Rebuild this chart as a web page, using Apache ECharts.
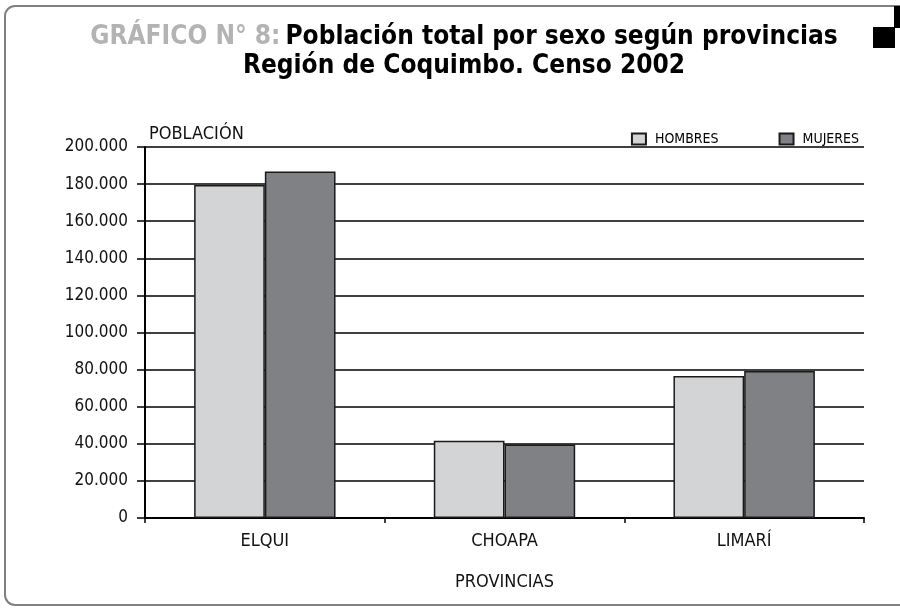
<!DOCTYPE html>
<html>
<head>
<meta charset="utf-8">
<script src="https://cdn.jsdelivr.net/npm/echarts@6/dist/echarts.min.js"></script>
<style>
  html, body { margin: 0; padding: 0; background: #fff; }
  #chart { width: 900px; height: 608px; }
</style>
</head>
<body>
<div id="chart"></div>
<script>
  // datos
  var provincias = ['ELQUI', 'CHOAPA', 'LIMARÍ']
  var hombres = [179500, 41600, 76500]
  var mujeres = [186800, 39600, 79300]
  var yTicks = [0, 20000, 40000, 60000, 80000, 100000, 120000, 140000, 160000, 180000, 200000]

  var FONT = "'Liberation Sans Narrow', 'DejaVu Sans Condensed', 'Roboto Condensed', sans-serif"

  function miles(v) {
    return String(v).replace(/\B(?=(\d{3})+(?!\d))/g, '.')
  }

  var chart = echarts.init(document.getElementById('chart'))
  chart.setOption({
    animation: false,
    backgroundColor: '#fff',
    title: {
      left: 459,
      top: 18,
      textAlign: 'center',
      text: '{a|GRÁFICO N° 8:} {b|Población total por sexo según provincias}\n{b|Región de Coquimbo. Censo 2002}',
      textStyle: {
        rich: {
          a: { fontFamily: FONT, fontSize: 26, fontWeight: 'bold', color: '#b3b3b3', lineHeight: 29 },
          b: { fontFamily: FONT, fontSize: 26, fontWeight: 'bold', color: '#000', lineHeight: 29 }
        }
      }
    },
    legend: {
      right: 36,
      top: 127,
      icon: 'rect',
      itemWidth: 14,
      itemHeight: 11,
      itemGap: 60,
      data: ['HOMBRES', 'MUJERES'],
      textStyle: { fontFamily: FONT, fontSize: 14, color: '#000', padding: [0, 0, 0, 4] }
    },
    grid: { left: 145, right: 36, top: 147, bottom: 90 },
    xAxis: {
      type: 'category',
      data: provincias,
      name: 'PROVINCIAS',
      nameLocation: 'middle',
      nameGap: 55,
      nameTextStyle: { fontFamily: FONT, fontSize: 18, color: '#111' },
      axisLine: { lineStyle: { color: '#000', width: 2 } },
      axisTick: { show: true, alignWithLabel: false, length: 5, lineStyle: { color: '#000', width: 1.5 } },
      axisLabel: { fontFamily: FONT, fontSize: 18, color: '#111', margin: 14 }
    },
    yAxis: {
      type: 'value',
      min: yTicks[0],
      max: yTicks[yTicks.length - 1],
      interval: yTicks[1] - yTicks[0],
      name: 'POBLACIÓN',
      nameLocation: 'end',
      nameGap: 4,
      nameTextStyle: { fontFamily: FONT, fontSize: 18, color: '#111', align: 'left', padding: [0, 0, 0, 4] },
      axisLine: { show: true, lineStyle: { color: '#000', width: 2 } },
      axisTick: { show: true, length: 8, lineStyle: { color: '#000', width: 1.5 } },
      axisLabel: { fontFamily: FONT, fontSize: 17, color: '#111', margin: 17, formatter: miles },
      splitLine: { show: true, lineStyle: { color: '#000', width: 1.5 } }
    },
    series: [
      {
        name: 'HOMBRES',
        type: 'bar',
        data: hombres,
        barGap: '0%',
        barCategoryGap: '41%',
        itemStyle: { color: '#d3d4d6', borderColor: '#1a1a1a', borderWidth: 1.5 }
      },
      {
        name: 'MUJERES',
        type: 'bar',
        data: mujeres,
        itemStyle: { color: '#808184', borderColor: '#1a1a1a', borderWidth: 1.5 }
      }
    ],
    graphic: [
      {
        type: 'rect',
        z: -1,
        shape: { x: 5, y: 6, width: 940, height: 599, r: 10 },
        style: { fill: 'none', stroke: '#808080', lineWidth: 2 }
      },
      {
        type: 'rect',
        shape: { x: 873, y: 27, width: 22, height: 21 },
        style: { fill: '#000' }
      },
      {
        type: 'rect',
        shape: { x: 894, y: 6, width: 6, height: 22 },
        style: { fill: '#000' }
      }
    ]
  })
</script>
</body>
</html>
